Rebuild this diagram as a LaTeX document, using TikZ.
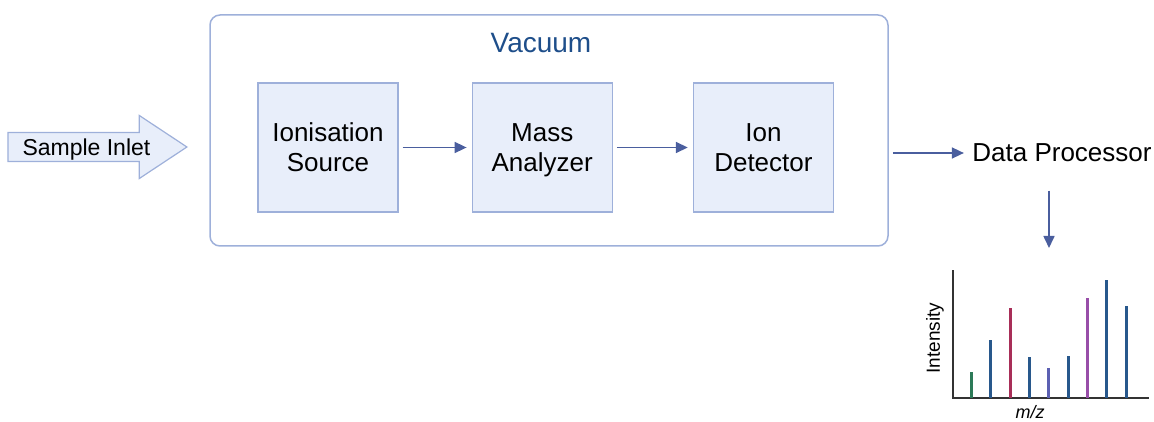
\documentclass[tikz,border=0pt]{standalone}
\usepackage{fontspec}
\setmainfont{Liberation Sans}
\usetikzlibrary{positioning,shapes.arrows,arrows.meta}
\definecolor{boxfill}{RGB}{232,238,250}
\definecolor{boxline}{RGB}{158,176,218}
\definecolor{flowblue}{RGB}{74,94,158}
\definecolor{vactext}{RGB}{30,78,138}
\definecolor{peakblue}{RGB}{40,88,140}
\definecolor{peakgreen}{RGB}{44,122,88}
\definecolor{peakred}{RGB}{168,46,88}
\definecolor{peakslate}{RGB}{92,96,178}
\definecolor{peakpurple}{RGB}{152,78,168}

\begin{document}
\begin{tikzpicture}[x=1pt, y=-1pt,
    stage/.style={draw=boxline, line width=1.2pt, fill=boxfill, minimum width=140pt, minimum height=129pt, align=center, font=\fontsize{26}{30}\selectfont, text height=48.6pt, text depth=0pt},
    flow/.style={draw=flowblue, line width=1.6pt, -{Triangle[length=12pt, width=11pt]}, shorten <=4pt, shorten >=5pt}]
    \useasboundingbox (0,0) rectangle (1154,422);

    \node[draw=boxline, line width=1.5pt, rounded corners=10pt, minimum width=678pt, minimum height=231pt] (vacuum) at (549,130.5) {};
    \node[text=vactext, font=\fontsize{28}{32}\selectfont] (vaclabel) at (541,43) {Vacuum};

    \node[stage] (ionsrc) at (328,147.5) {Ionisation\\Source};
    \node[stage, right=73pt of ionsrc] (analyzer) {Mass\\Analyzer};
    \node[stage, right=80pt of analyzer] (detector) {Ion\\Detector};

    \node[single arrow, draw=boxline, line width=1.2pt, fill=boxfill, minimum height=179pt, minimum width=63pt, single arrow head extend=15pt, single arrow tip angle=67, inner ysep=4pt, font=\fontsize{23}{26}\selectfont, text height=16.5pt, text depth=0pt, anchor=tip] (inlet) at (188,147) {Sample Inlet};

    \node[font=\fontsize{26}{30}\selectfont] (dataproc) at (1062,153) {Data Processor};
    \coordinate (spectrum) at (1049,248);

    \draw[flow] (ionsrc) -- (analyzer);
    \draw[flow] (analyzer) -- (detector);
    \draw[flow] (vacuum.east |- dataproc.west) -- (dataproc.west);
    \draw[flow, shorten <=25pt, shorten >=0pt] (dataproc.south -| spectrum) -- (spectrum);

    % spectrum
    \coordinate (origin) at (953,398);
    \draw[line width=1.2pt, black!80] (origin |- 0,270) -- (origin) -- (1149,398);
    \foreach \px/\py/\pc in {971/372/peakgreen, 990/340/peakblue, 1010/308/peakred, 1029/357/peakblue, 1048/368/peakslate, 1068/356/peakblue, 1087/298/peakpurple, 1106/280/peakblue, 1126/306/peakblue}
        \draw[line width=3pt, \pc] (\px,398) -- (\px,\py);
    \node[rotate=90, font=\fontsize{19}{22}\selectfont] (ylabel) at (935,338) {Intensity};
    \node[font=\fontsize{18}{21}\selectfont\itshape] (xlabel) at (1030,412) {m/z};
\end{tikzpicture}
\end{document}
